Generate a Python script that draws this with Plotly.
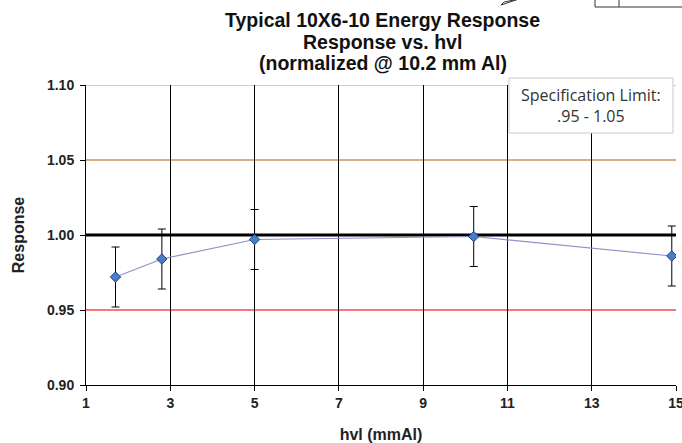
import plotly.graph_objects as go

# Data
hvl = [1.7, 2.8, 5.0, 10.2, 14.9]
response = [0.972, 0.984, 0.997, 0.999, 0.986]
err = [0.02, 0.02, 0.02, 0.02, 0.02]
spec_low = 0.95
spec_high = 1.05
nominal = 1.00
x_ticks = [1, 3, 5, 7, 9, 11, 13, 15]
y_ticks = [0.90, 0.95, 1.00, 1.05, 1.10]

title_lines = ["Typical 10X6-10 Energy Response", "Response vs. hvl", "(normalized @ 10.2 mm Al)"]
spec_text = ["Specification Limit:", ".95 - 1.05"]

# plot-area pixel geometry (for converting page pixels to paper coords)
L, R, T, B = 86, 676, 85, 385
W_, H_ = R - L, B - T


def px(x):
    return (x - L) / W_


def py(y):
    return (B - y) / H_


FONT = "Liberation Sans, Arial, sans-serif"

fig = go.Figure()

fig.add_trace(go.Scatter(
    x=hvl, y=response, mode="lines+markers",
    line=dict(color="#9090CC", width=1.2),
    marker=dict(symbol="diamond", size=8, color="#4A7CC8",
                line=dict(color="#23408A", width=1)),
    error_y=dict(type="data", array=err, visible=True, color="black",
                 thickness=1, width=4),
    showlegend=False,
))

annotations = []
title_centers = [20, 42, 63]
for line, yc in zip(title_lines, title_centers):
    annotations.append(dict(
        text=line, xref="paper", yref="paper", x=px(383), y=py(yc),
        xanchor="center", yanchor="middle", showarrow=False,
        font=dict(family=FONT, size=19.5, color="#111", weight="bold")))

annotations.append(dict(
    text="<br>".join(spec_text), xref="paper", yref="paper",
    x=px(591), y=py(105), xanchor="center", yanchor="middle",
    showarrow=False, align="center",
    font=dict(family="Open Sans, Noto Sans, sans-serif", size=16, color="#333")))

fig.update_layout(
    width=682, height=443,
    margin=dict(l=L, r=682 - R, t=T, b=443 - B, autoexpand=False),
    paper_bgcolor="white", plot_bgcolor="white",
    font=dict(family=FONT, color="#222"),
    xaxis=dict(range=[1, 15], tickvals=x_ticks, showgrid=True, gridcolor="black", gridwidth=1,
               zeroline=False, showline=True, linecolor="black", linewidth=1,
               ticks="outside", ticklen=5, tickcolor="black", automargin=False,
               ticklabeloverflow="allow",
               tickfont=dict(size=14, weight="bold", color="#222", family=FONT),
               title=dict(text="hvl (mmAl)", font=dict(size=16, weight="bold", color="#222", family=FONT),
                          standoff=20)),
    yaxis=dict(range=[0.90, 1.10], tickvals=y_ticks, tickformat=".2f", showgrid=False,
               zeroline=False, showline=True, linecolor="black", linewidth=1,
               ticks="outside", ticklen=5, tickcolor="black", automargin=False,
               ticklabelstandoff=3,
               tickfont=dict(size=14, weight="bold", color="#222", family=FONT),
               title=dict(text="Response", font=dict(size=16, weight="bold", color="#222", family=FONT),
                          standoff=18)),
    shapes=[
        dict(type="line", xref="paper", yref="y", x0=0, x1=1, y0=1.10, y1=1.10,
             line=dict(color="#A0A0A0", width=1), layer="below"),
        dict(type="line", xref="paper", yref="y", x0=0, x1=1, y0=spec_high, y1=spec_high,
             line=dict(color="#C4935E", width=1.3), layer="below"),
        dict(type="line", xref="paper", yref="y", x0=0, x1=1, y0=spec_low, y1=spec_low,
             line=dict(color="#F24A4A", width=1.5), layer="below"),
        dict(type="line", xref="paper", yref="y", x0=0, x1=1, y0=nominal, y1=nominal,
             line=dict(color="black", width=3), layer="below"),
        # specification box
        dict(type="rect", xref="paper", yref="paper",
             x0=px(509), x1=px(673), y0=py(133), y1=py(78),
             fillcolor="white", line=dict(color="#CACACA", width=1), layer="above"),
        # artifact box at top-right corner
        dict(type="path", xref="paper", yref="paper",
             path="M {a},{b} L {a},{c} L {d},{c}".format(
                 a=px(595), b=py(-5), c=py(7), d=px(690)),
             line=dict(color="#333", width=1)),
        dict(type="line", xref="paper", yref="paper",
             x0=px(619), x1=px(619), y0=py(7), y1=py(-5),
             line=dict(color="#333", width=1)),
        dict(type="path", xref="paper", yref="paper",
             path="M {a},{b} L {c},{d} L {e},{f} Z".format(
                 a=px(501), b=py(5),
                 c=px(519), d=py(-1),
                 e=px(504), f=py(2)),
             line=dict(color="#333", width=1)),
    ],
    annotations=annotations,
)

fig.write_html("out.html", config={"displayModeBar": False},
               post_script="document.body.style.margin='0';")
